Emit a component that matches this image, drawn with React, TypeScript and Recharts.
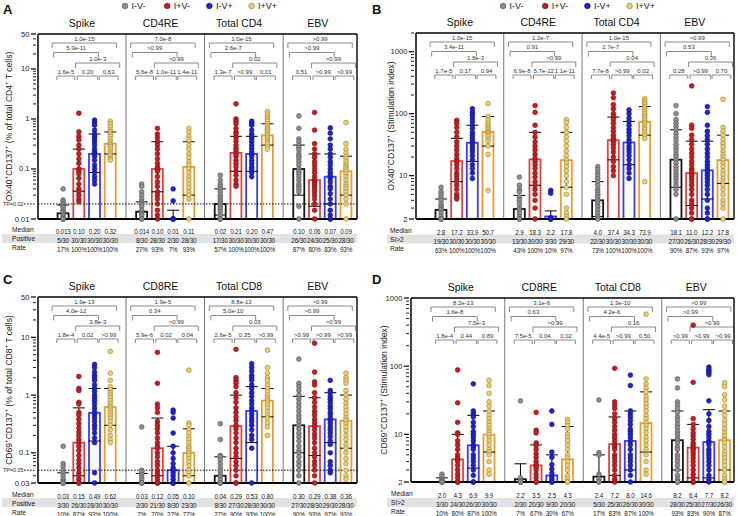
import React from 'react';
import { ComposedChart, Bar, Scatter, ErrorBar, XAxis, YAxis, ReferenceLine } from 'recharts';

const FONT = "'Liberation Sans', Arial, Helvetica, sans-serif";
const SERIES = ['I-V-', 'I+V-', 'I-V+', 'I+V+'];
const BAR_STROKE = ['#141414', '#e2443a', '#3b3bff', '#f29a2e'];
const DOT_FILL = ['#8e8e8e', '#c51d22', '#2024cc', '#e9cd70'];
const DOT_EDGE = ['#555555', '#7d1013', '#11137a', '#9d8132'];

// ---------- Panel A ----------
const A_GROUPS = ['Spike', 'CD4RE', 'Total CD4', 'EBV'];
const A_MEDIAN = ['0.013', '0.10', '0.20', '0.32', '0.014', '0.10', '0.01', '0.11', '0.02', '0.21', '0.20', '0.47', '0.10', '0.06', '0.07', '0.09'];
const A_LO = [0.01, 0.036, 0.085, 0.2, 0.01, 0.035, 0.01, 0.03, 0.012, 0.09, 0.09, 0.3, 0.03, 0.018, 0.02, 0.03];
const A_HI = [0.019, 0.25, 0.5, 0.55, 0.022, 0.35, 0.015, 0.35, 0.04, 0.45, 0.45, 0.8, 0.3, 0.2, 0.2, 0.18];
const A_POS = ['5/30', '30/30', '30/30', '30/30', '8/30', '28/30', '2/30', '28/30', '17/30', '30/30', '30/30', '30/30', '26/30', '24/30', '25/30', '28/30'];
const A_RATE = ['17%', '100%', '100%', '100%', '27%', '93%', '7%', '93%', '57%', '100%', '100%', '100%', '87%', '80%', '83%', '93%'];
const A_P = [
  ['1.0e-15', '5.3e-11', '1.0e-3', '1.6e-5', '0.20', '0.63'],
  ['7.0e-8', '>0.99', '>0.99', '5.6e-8', '1.0e-11', '1.4e-11'],
  ['1.0e-15', '2.6e-7', '0.02', '1.3e-7', '>0.99', '0.01'],
  ['>0.99', '>0.99', '>0.99', '0.51', '>0.99', '>0.99'],
];
const A_YMAJOR = [0.01, 0.1, 1, 10, 50];
const A_PTS = [
  [0.04, 0.024, 0.022, 0.02, 0.018, 0.017, 0.015, 0.014, 0.013, 0.012, 0.011, 0.01, 0.01, 0.01],
  [1.3, 0.55, 0.45, 0.38, 0.3, 0.25, 0.2, 0.16, 0.13, 0.1, 0.09, 0.08, 0.065, 0.05, 0.04, 0.035, 0.03, 0.025, 0.022],
  [0.95, 0.85, 0.75, 0.6, 0.5, 0.45, 0.4, 0.35, 0.3, 0.25, 0.22, 0.2, 0.18, 0.15, 0.12, 0.1, 0.085, 0.07, 0.06, 0.05],
  [0.9, 0.8, 0.7, 0.6, 0.55, 0.5, 0.45, 0.4, 0.35, 0.32, 0.3, 0.28, 0.25, 0.22, 0.2, 0.18, 0.16, 0.15],
  [0.05, 0.045, 0.035, 0.03, 0.025, 0.022, 0.02, 0.018, 0.015, 0.013, 0.012, 0.01, 0.01],
  [0.65, 0.5, 0.42, 0.35, 0.3, 0.25, 0.2, 0.16, 0.13, 0.11, 0.1, 0.09, 0.07, 0.055, 0.045, 0.035, 0.03, 0.025, 0.02, 0.015, 0.012, 0.01],
  [0.04, 0.023, 0.01, 0.01, 0.01],
  [0.65, 0.55, 0.45, 0.38, 0.3, 0.25, 0.2, 0.17, 0.14, 0.12, 0.1, 0.085, 0.07, 0.06, 0.05, 0.042, 0.035, 0.03, 0.025, 0.01],
  [0.075, 0.06, 0.05, 0.045, 0.04, 0.035, 0.03, 0.027, 0.024, 0.022, 0.02, 0.018, 0.016, 0.014, 0.012, 0.01, 0.01],
  [2.0, 1.0, 0.9, 0.8, 0.65, 0.55, 0.5, 0.42, 0.36, 0.3, 0.26, 0.23, 0.2, 0.18, 0.15, 0.13, 0.11, 0.09, 0.075, 0.06, 0.05, 0.045],
  [0.9, 0.82, 0.75, 0.6, 0.5, 0.45, 0.4, 0.35, 0.3, 0.26, 0.22, 0.2, 0.18, 0.15, 0.13, 0.11, 0.1, 0.085, 0.07],
  [1.4, 1.25, 1.1, 1.0, 0.9, 0.8, 0.72, 0.65, 0.6, 0.55, 0.5, 0.47, 0.42, 0.38, 0.35, 0.32, 0.28, 0.25],
  [1.15, 0.65, 0.4, 0.35, 0.3, 0.27, 0.24, 0.2, 0.18, 0.16, 0.14, 0.12, 0.1, 0.09, 0.08, 0.07, 0.06, 0.05, 0.045, 0.04, 0.035, 0.018, 0.01],
  [1.35, 0.6, 0.32, 0.25, 0.2, 0.17, 0.14, 0.12, 0.1, 0.085, 0.07, 0.06, 0.055, 0.05, 0.045, 0.04, 0.035, 0.03, 0.025, 0.02, 0.015, 0.01],
  [0.66, 0.52, 0.4, 0.3, 0.25, 0.2, 0.17, 0.14, 0.12, 0.1, 0.085, 0.075, 0.065, 0.055, 0.045, 0.04, 0.032, 0.025, 0.02, 0.015, 0.012, 0.01, 0.01],
  [0.85, 0.32, 0.25, 0.21, 0.18, 0.16, 0.14, 0.12, 0.11, 0.1, 0.09, 0.08, 0.07, 0.06, 0.05, 0.045, 0.04, 0.035, 0.03, 0.025, 0.02, 0.01],
];

// ---------- Panel B ----------
const B_GROUPS = ['Spike', 'CD4RE', 'Total CD4', 'EBV'];
const B_MEDIAN = ['2.8', '17.2', '33.9', '50.7', '2.9', '18.3', '2.2', '17.8', '4.0', '37.4', '34.3', '73.9', '18.1', '11.0', '12.2', '17.8'];
const B_LO = [2, 8, 17, 30, 2, 7, 2, 6.5, 2.2, 18, 15, 45, 6.5, 3.3, 4.2, 7.5];
const B_HI = [4.2, 40, 65, 90, 4.8, 50, 2.7, 50, 8, 88, 75, 130, 55, 36, 36, 45];
const B_POS = ['19/30', '30/30', '30/30', '30/30', '13/30', '30/30', '3/30', '29/30', '22/30', '30/30', '30/30', '30/30', '27/30', '26/30', '28/30', '29/30'];
const B_RATE = ['63%', '100%', '100%', '100%', '43%', '100%', '10%', '97%', '73%', '100%', '100%', '100%', '90%', '87%', '93%', '97%'];
const B_P = [
  ['1.0e-15', '3.4e-11', '1.8e-3', '1.7e-5', '0.17', '0.94'],
  ['1.2e-7', '0.91', '>0.99', '6.9e-8', '5.7e-12', '1.1e-11'],
  ['1.0e-15', '2.7e-7', '0.04', '7.7e-8', '>0.99', '0.02'],
  ['>0.99', '0.53', '0.36', '0.28', '>0.99', '0.70'],
];
const B_YMAJOR = [2, 10, 100, 1000];
const B_PTS = [
  [6.5, 5.5, 5, 4.5, 4, 3.5, 3.2, 3, 2.8, 2.5, 2.2, 2, 2, 2],
  [78, 70, 60, 50, 42, 35, 30, 26, 22, 19, 17, 15, 13, 11, 10, 9, 8, 7, 6, 5, 4.5, 4.2],
  [120, 105, 95, 85, 75, 65, 58, 50, 45, 40, 36, 33, 30, 27, 24, 21, 18, 15, 13, 11, 9],
  [145, 90, 80, 72, 65, 60, 56, 52, 50, 47, 44, 40, 36, 30, 22, 5.8],
  [9.5, 7, 6, 5.5, 4.5, 4, 3.5, 3, 2.8, 2.5, 2.2, 2, 2],
  [135, 105, 65, 50, 42, 35, 30, 26, 22, 19, 17, 15, 13, 11, 9.5, 8, 7, 6, 5, 4, 3, 2],
  [5.8, 5.2, 2.1, 2, 2, 2],
  [80, 72, 60, 50, 42, 36, 30, 25, 21, 18, 16, 14, 12, 10, 8, 6.5, 5, 3, 2.5, 2.2, 2],
  [14, 12.5, 11, 10, 9, 8, 7, 6, 5.5, 5, 4.5, 4, 3.6, 3.2, 2.8, 2.5, 2.2, 2],
  [215, 180, 140, 120, 100, 90, 80, 70, 60, 52, 45, 40, 36, 32, 28, 24, 20, 17, 14, 12, 10],
  [115, 100, 85, 75, 65, 56, 50, 44, 38, 34, 30, 27, 24, 21, 18, 15, 13, 11, 9],
  [175, 160, 150, 140, 130, 120, 110, 100, 92, 85, 78, 72, 66, 60, 55, 50, 45, 40, 8],
  [135, 100, 80, 70, 62, 55, 48, 42, 37, 32, 28, 25, 22, 20, 18, 16, 14, 12.5, 11, 10, 9, 8, 7, 6, 5, 2],
  [280, 65, 58, 45, 38, 32, 27, 23, 20, 17, 15, 13, 12, 11, 10, 9, 8, 7, 6, 5, 4, 3.5, 3, 2.5, 2, 2],
  [130, 105, 65, 52, 44, 38, 32, 27, 23, 20, 17, 15, 13.5, 12, 11, 10, 9, 8, 7, 6, 5, 4, 3, 2.5, 2, 2],
  [170, 60, 52, 45, 38, 33, 29, 25, 22, 20, 18, 16, 14, 12, 10.5, 9, 8, 7, 6, 5, 4, 3.5, 3, 2],
];

// ---------- Panel C ----------
const C_GROUPS = ['Spike', 'CD8RE', 'Total CD8', 'EBV'];
const C_MEDIAN = ['0.03', '0.15', '0.49', '0.62', '0.03', '0.12', '0.05', '0.10', '0.04', '0.29', '0.53', '0.80', '0.30', '0.29', '0.38', '0.36'];
const C_LO = [0.03, 0.04, 0.16, 0.3, 0.03, 0.04, 0.03, 0.04, 0.03, 0.08, 0.15, 0.42, 0.1, 0.09, 0.15, 0.12];
const C_HI = [0.045, 0.6, 1.3, 1.3, 0.044, 0.4, 0.13, 0.26, 0.085, 1.0, 1.4, 1.3, 0.95, 0.9, 1.1, 1.0];
const C_POS = ['3/30', '26/30', '28/30', '30/30', '2/30', '21/30', '8/30', '23/30', '8/30', '27/30', '28/30', '30/30', '27/30', '28/30', '29/30', '28/30'];
const C_RATE = ['10%', '87%', '93%', '100%', '7%', '70%', '27%', '77%', '27%', '90%', '93%', '100%', '90%', '93%', '97%', '93%'];
const C_P = [
  ['1.9e-13', '4.0e-12', '3.8e-3', '1.8e-4', '0.02', '>0.99'],
  ['1.9e-5', '0.34', '>0.99', '5.9e-6', '0.02', '0.04'],
  ['8.8e-13', '5.0e-10', '0.03', '2.6e-5', '0.35', '>0.99'],
  ['>0.99', '>0.99', '>0.99', '>0.99', '>0.99', '>0.99'],
];
const C_YMAJOR = [0.03, 0.1, 1, 10, 50];
const C_PTS = [
  [0.13, 0.065, 0.058, 0.05, 0.045, 0.04, 0.035, 0.032, 0.03, 0.03, 0.03],
  [2.1, 1.3, 1.2, 0.75, 0.7, 0.5, 0.45, 0.38, 0.32, 0.27, 0.23, 0.2, 0.17, 0.15, 0.13, 0.11, 0.09, 0.075, 0.065, 0.055, 0.045, 0.04, 0.035, 0.03, 0.03],
  [3.4, 3.0, 2.5, 2.2, 2.0, 1.8, 1.5, 1.3, 1.15, 1.0, 0.9, 0.8, 0.7, 0.6, 0.52, 0.45, 0.4, 0.35, 0.3, 0.26, 0.22, 0.18, 0.15, 0.045, 0.03],
  [5.7, 2.4, 1.8, 1.4, 1.25, 1.1, 1.0, 0.9, 0.8, 0.72, 0.65, 0.6, 0.55, 0.5, 0.45, 0.4, 0.35, 0.3, 0.25, 0.2, 0.17, 0.15],
  [0.28, 0.05, 0.047, 0.042, 0.038, 0.034, 0.03, 0.03, 0.03],
  [5.5, 1.6, 0.7, 0.6, 0.5, 0.35, 0.3, 0.26, 0.22, 0.18, 0.15, 0.13, 0.12, 0.1, 0.085, 0.07, 0.06, 0.05, 0.045, 0.04, 0.035, 0.03, 0.03],
  [0.55, 0.5, 0.4, 0.22, 0.13, 0.1, 0.08, 0.065, 0.055, 0.05, 0.045, 0.04, 0.035, 0.03, 0.03, 0.03],
  [2.7, 0.33, 0.3, 0.25, 0.22, 0.19, 0.17, 0.15, 0.13, 0.12, 0.11, 0.1, 0.09, 0.08, 0.07, 0.06, 0.05, 0.045, 0.04, 0.03],
  [0.32, 0.17, 0.09, 0.085, 0.075, 0.065, 0.055, 0.048, 0.042, 0.038, 0.034, 0.03, 0.03, 0.03],
  [6.2, 2.0, 1.8, 1.6, 1.4, 1.1, 0.9, 0.75, 0.6, 0.5, 0.42, 0.36, 0.3, 0.26, 0.22, 0.18, 0.15, 0.12, 0.1, 0.085, 0.07, 0.06, 0.05, 0.04, 0.03, 0.03],
  [3.5, 3.0, 2.6, 2.2, 2.0, 1.8, 1.5, 1.3, 1.1, 0.95, 0.8, 0.7, 0.6, 0.53, 0.46, 0.4, 0.35, 0.3, 0.25, 0.2, 0.17, 0.12, 0.03],
  [6.0, 3.0, 2.4, 2.0, 1.8, 1.5, 1.3, 1.15, 1.0, 0.9, 0.82, 0.75, 0.68, 0.6, 0.52, 0.45, 0.4, 0.33, 0.28, 0.2],
  [4.2, 1.6, 1.4, 1.2, 1.0, 0.85, 0.72, 0.62, 0.53, 0.45, 0.4, 0.35, 0.3, 0.26, 0.22, 0.19, 0.16, 0.13, 0.11, 0.1, 0.085, 0.07, 0.06, 0.05, 0.04, 0.03],
  [7.9, 2.5, 1.7, 1.5, 1.1, 0.9, 0.75, 0.62, 0.52, 0.45, 0.38, 0.33, 0.29, 0.25, 0.21, 0.18, 0.15, 0.12, 0.1, 0.085, 0.07, 0.06, 0.05, 0.04, 0.03],
  [1.8, 1.2, 1.1, 0.95, 0.85, 0.75, 0.65, 0.58, 0.5, 0.45, 0.4, 0.36, 0.32, 0.28, 0.25, 0.22, 0.19, 0.16, 0.14, 0.1, 0.07, 0.06, 0.05, 0.045],
  [2.4, 2.0, 1.8, 1.6, 1.2, 1.0, 0.85, 0.72, 0.62, 0.54, 0.47, 0.4, 0.36, 0.32, 0.28, 0.24, 0.2, 0.17, 0.14, 0.12, 0.1, 0.08, 0.065, 0.05, 0.04, 0.035],
];

// ---------- Panel D ----------
const D_GROUPS = ['Spike', 'CD8RE', 'Total CD8', 'EBV'];
const D_MEDIAN = ['2.0', '4.3', '6.9', '9.9', '2.2', '3.5', '2.5', '4.3', '2.4', '7.2', '8.0', '14.6', '8.2', '6.4', '7.7', '8.2'];
const D_LO = [2, 2, 3.2, 5.5, 2, 2, 2, 2, 2, 2.5, 3, 5.5, 3, 2.3, 2.3, 3];
const D_HI = [2.3, 10, 19, 22, 3.7, 7, 5, 13, 5, 18, 22, 42, 22, 14, 23, 22];
const D_POS = ['3/30', '24/30', '26/30', '30/30', '2/30', '20/30', '9/30', '20/30', '5/30', '25/30', '26/30', '30/30', '28/30', '25/30', '27/30', '26/30'];
const D_RATE = ['10%', '80%', '87%', '100%', '7%', '67%', '30%', '67%', '17%', '83%', '87%', '100%', '93%', '83%', '90%', '87%'];
const D_P = [
  ['8.2e-13', '1.6e-8', '7.5e-3', '1.8e-4', '0.44', '0.89'],
  ['3.1e-6', '0.63', '>0.99', '7.5e-5', '0.04', '0.02'],
  ['1.3e-10', '4.2e-6', '0.16', '4.4e-5', '>0.99', '0.50'],
  ['>0.99', '>0.99', '>0.99', '>0.99', '>0.99', '>0.99'],
];
const D_YMAJOR = [2, 10, 100, 1000];
const D_PTS = [
  [2.6, 2.4, 2.2, 2.1, 2, 2, 2],
  [88, 29, 15, 10.5, 10, 8, 7, 6, 5, 4.5, 4.3, 4, 3.5, 3, 2.6, 2.3, 2, 2],
  [55, 22, 20, 18, 15, 13, 11, 10, 9, 8, 7, 6.5, 6, 5, 4.5, 4, 3.5, 3, 2.5, 2, 2],
  [62, 52, 40, 30, 26, 22, 19, 17, 15, 13.5, 12, 11, 10, 9, 8, 7, 6, 5.5, 5, 4, 3, 2.6],
  [31, 2.3, 2.1, 2, 2, 2],
  [21, 11.5, 10.5, 7.5, 6.8, 6, 5.2, 4.6, 4, 3.6, 3.3, 3, 2.6, 2.3, 2, 2],
  [22, 14, 5.5, 4.6, 3.6, 3.1, 2.7, 2.4, 2.2, 2, 2],
  [16.5, 15, 13.5, 12, 10, 9, 8, 7, 6, 5, 4.5, 4, 3.5, 3, 2.5, 2.2, 2, 2],
  [32, 5.4, 5.0, 2.6, 2.2, 2, 2],
  [93, 30, 27, 24, 20, 17, 15, 13, 11.5, 10, 9, 8, 7, 6.5, 6, 5, 4.5, 4, 3.5, 3, 2.5, 2.2, 2],
  [74, 52, 22, 20, 18, 16, 14, 12, 11, 10, 9, 8, 7, 6, 5, 4.5, 4, 3.5, 3, 2.5, 2],
  [580, 65, 55, 48, 42, 36, 32, 28, 25, 22, 19, 17, 15, 13.5, 12, 10.5, 9, 8, 7, 6, 5, 4, 3, 2.6],
  [65, 48, 30, 27, 24, 21, 18, 16, 14, 12.5, 11, 10, 9, 8.2, 7.5, 6.5, 6, 5, 4.5, 4, 3.5, 3, 2.5, 2.2, 2, 2],
  [400, 58, 17, 14, 12, 10.5, 9.5, 8.5, 7.5, 7, 6.4, 6, 5.5, 5, 4.5, 4, 3.5, 3, 2.6, 2.3, 2, 2],
  [97, 90, 85, 80, 75, 31, 20, 16, 13, 11, 10, 9, 8, 7.7, 7, 6, 5.5, 5, 4.5, 4, 3.5, 3, 2.5, 2.2, 2],
  [57, 50, 38, 32, 26, 22, 19, 16, 14, 12, 10.5, 9.5, 8.5, 8.2, 7.5, 6.5, 5.5, 5, 4.5, 4, 3.5, 3, 2.5, 2.2, 2, 2],
];

// bracket geometry (x relative to group start, level = px below plot top)
const BR = [
  { a: 0.3, b: 4.4, lv: 9, t: 5 },
  { a: 0.4, b: 3.25, lv: 18.5, t: 5 },
  { a: 1.8, b: 4.6, lv: 29, t: 5 },
  { a: 0.6, b: 1.75, lv: 42, t: 4 },
  { a: 1.9, b: 3.2, lv: 42, t: 4 },
  { a: 3.3, b: 4.5, lv: 42, t: 4 },
];

type Cfg = any;

const PANELS: Cfg[] = [
  {
    letter: 'A', letterPos: [3, 13.5], box: [0, 0, 369, 256], plot: [38, 34, 357, 219], xDom: [-0.6, 19.7],
    yDom: [0.01, 50], yMajor: A_YMAJOR, tp: 0.02, tpLabel: 'TP=0.02',
    yTitle: 'OX40^+CD137^+ (% of total CD4^+ T cells)', yTitleX: 9,
    groups: A_GROUPS, medians: A_MEDIAN, lo: A_LO, hi: A_HI, pts: A_PTS, pv: A_P,
    row2: 'Positive', cnt: A_POS, rate: A_RATE, rows: [10, 19.5, 28.5], band: [2, 357, 234, 243], rowLabelX: 12,
    legend: [125, 6],
  },
  {
    letter: 'B', letterPos: [372, 13.5], box: [370, 0, 368, 256], plot: [416, 33, 734, 219], xDom: [-0.6, 19.7],
    yDom: [2, 2000], yMajor: B_YMAJOR,
    yTitle: 'OX40^+CD137^+ (Stimulation index)', yTitleX: 391,
    groups: B_GROUPS, medians: B_MEDIAN, lo: B_LO, hi: B_HI, pts: B_PTS, pv: B_P,
    row2: 'SI>2', cnt: B_POS, rate: B_RATE, rows: [11, 20, 29], band: [387, 734, 234.5, 243.5], rowLabelX: 390,
    legend: [503, 6],
  },
  {
    letter: 'C', letterPos: [3, 283.5], box: [0, 258, 369, 258], plot: [38, 297, 357, 483], xDom: [-0.6, 19.7],
    yDom: [0.03, 50], yMajor: C_YMAJOR, tp: 0.05, tpLabel: 'TP=0.05',
    yTitle: 'CD69^+CD137^+ (% of total CD8^+ T cells)', yTitleX: 9,
    groups: C_GROUPS, medians: C_MEDIAN, lo: C_LO, hi: C_HI, pts: C_PTS, pv: C_P,
    row2: 'Positive', cnt: C_POS, rate: C_RATE, rows: [11, 20, 29], band: [2, 357, 498, 507], rowLabelX: 12,
  },
  {
    letter: 'D', letterPos: [372, 283.5], box: [370, 258, 368, 258], plot: [411, 298, 734, 482], xDom: [-0.97, 19.6],
    yDom: [2, 1000], yMajor: D_YMAJOR,
    yTitle: 'CD69^+CD137^+ (Stimulation index)', yTitleX: 384,
    groups: D_GROUPS, medians: D_MEDIAN, lo: D_LO, hi: D_HI, pts: D_PTS, pv: D_P,
    row2: 'SI>2', cnt: D_POS, rate: D_RATE, rows: [11, 20.5, 29.5], band: [387, 734, 498, 507], rowLabelX: 391,
  },
];

function logTicks(dom: number[]) {
  const out: number[] = [];
  for (let e = -3; e <= 4; e++) {
    for (let m = 1; m < 10; m++) {
      const v = Number((m * Math.pow(10, e)).toPrecision(3));
      if (v >= dom[0] * 0.9999 && v < dom[1] * 0.9999) out.push(v);
    }
  }
  if (!out.some((v) => Math.abs(v - dom[1]) / dom[1] < 1e-6)) out.push(dom[1]);
  return out;
}

const near = (a: number, b: number) => Math.abs(a - b) / Math.abs(b) < 1e-6;

function YTick(props: any) {
  const { x, y, payload, c } = props;
  const v = payload.value;
  if (c.tp && near(v, c.tp)) {
    return (
      <g>
        <line x1={x - 12} x2={x} y1={y} y2={y} stroke="#000" strokeWidth={1} strokeDasharray="1.5 1.5" />
        <text x={x - 12.5} y={y} textAnchor="end" dominantBaseline="central" fontSize={5.4} fontFamily={FONT} fill="#222">{c.tpLabel}</text>
      </g>
    );
  }
  const major = c.yMajor.some((m: number) => near(v, m));
  if (major) {
    return (
      <g>
        <line x1={x - 5} x2={x} y1={y} y2={y} stroke="#000" strokeWidth={1.2} />
        <text x={x - 6.5} y={y} textAnchor="end" dominantBaseline="central" fontSize={7.6} fontFamily={FONT} fill="#222">{String(v)}</text>
      </g>
    );
  }
  return <line x1={x - 3} x2={x} y1={y} y2={y} stroke="#000" strokeWidth={0.9} />;
}

function TableTick(props: any) {
  const { x, y, payload, c } = props;
  const v = Math.round(payload.value);
  const g = Math.floor((v - 1) / 5);
  const s = v - 1 - g * 5;
  const i = g * 4 + s;
  const vals = [c.medians[i], c.cnt[i], c.rate[i]];
  return (
    <g>
      {vals.map((t: string, k: number) => (
        <text key={k} x={x} y={y + c.rows[k]} textAnchor="middle" dominantBaseline="central" fontSize={6.3} letterSpacing={-0.15} fontFamily={FONT} fill="#151515">{t}</text>
      ))}
    </g>
  );
}

function TitleTick(props: any) {
  const { x, y, payload, c } = props;
  const i = Math.round((payload.value - 2.2) / 5);
  return (
    <text x={x} y={y - 5} textAnchor="middle" fontSize={10.5} fontFamily={FONT} fill="#111">{c.groups[i]}</text>
  );
}

const barShape = (p: any) => {
  const idx = p.index != null ? p.index : 0;
  const w = 11;
  const cx = p.x + p.width / 2;
  const h = Math.max(0, p.height || 0);
  return (
    <rect x={cx - w / 2} y={p.y} width={w} height={h} fill="none" stroke={BAR_STROKE[idx % 4]} strokeWidth={1.8} />
  );
};

const dotShape = (s: number) => (p: any) => (
  <circle cx={p.cx} cy={p.cy} r={2.4} fill={DOT_FILL[s]} stroke={DOT_EDGE[s]} strokeWidth={0.6} />
);
const emptyShape = () => <g />;
const pvShape = (p: any) => {
  const t = (p.payload && p.payload.t) || p.t;
  return (
    <text x={p.cx} y={p.cy - 2.2} textAnchor="middle" fontSize={6} fontFamily={FONT} fill="#333">{t}</text>
  );
};

function Panel({ c }: { c: Cfg }) {
  const [bl, bt, bw, bh] = c.box;
  const [pl, pt, pr, pb] = c.plot;
  const plotH = pb - pt;
  const margin = { top: pt - bt - 12, right: bl + bw - pr - 1, bottom: bt + bh - pb - 30, left: 0 };
  const rows = c.medians.map((m: string, i: number) => {
    const g = Math.floor(i / 4);
    const s = i % 4;
    const v = Number(m);
    return { x: g * 5 + s + 1, y: v, err: [v - c.lo[i], c.hi[i] - v] };
  });
  const barTicks = rows.map((r: any) => r.x);
  const series = SERIES.map((_, s) =>
    c.pts.flatMap((arr: number[], i: number) =>
      i % 4 === s ? arr.map((y) => ({ x: Math.floor(i / 4) * 5 + s + 1, y })) : []
    )
  );
  const labels = c.pv.flatMap((grp: string[], g: number) =>
    grp.map((t, k) => ({ x: g * 5 + (BR[k].a + BR[k].b) / 2, y: BR[k].lv, t }))
  );
  const yTicks = logTicks(c.yDom);
  const bracketLines: any[] = [];
  c.pv.forEach((grp: string[], g: number) => {
    grp.forEach((_t, k) => {
      const b = BR[k];
      const x0 = g * 5 + b.a;
      const x1 = g * 5 + b.b;
      const key = `${g}-${k}`;
      const common = { yAxisId: 'b', stroke: '#8a8a8a', strokeWidth: 1, ifOverflow: 'visible' as const };
      bracketLines.push(<ReferenceLine key={key + 'h'} {...common} segment={[{ x: x0, y: b.lv }, { x: x1, y: b.lv }]} />);
      bracketLines.push(<ReferenceLine key={key + 'l'} {...common} segment={[{ x: x0, y: b.lv }, { x: x0, y: b.lv + b.t }]} />);
      bracketLines.push(<ReferenceLine key={key + 'r'} {...common} segment={[{ x: x1, y: b.lv }, { x: x1, y: b.lv + b.t }]} />);
    });
  });

  return (
    <div style={{ position: 'absolute', left: bl, top: bt, width: bw, height: bh }}>
      <ComposedChart width={bw} height={bh} data={rows} margin={margin}>
        <XAxis
          xAxisId={0} dataKey="x" type="number" domain={c.xDom} ticks={barTicks} interval={0}
          tickLine={false} tickSize={0} height={30} axisLine={{ stroke: '#000', strokeWidth: 2 }}
          tick={(p: any) => <TableTick {...p} c={c} />}
        />
        <XAxis
          xAxisId="top" orientation="top" dataKey="x" type="number" domain={c.xDom} ticks={[2.2, 7.2, 12.2, 17.2]}
          interval={0} tickLine={false} tickSize={0} height={12} axisLine={{ stroke: '#000', strokeWidth: 1.4 }}
          tick={(p: any) => <TitleTick {...p} c={c} />}
        />
        <YAxis
          yAxisId={0} dataKey="y" type="number" scale="log" domain={c.yDom} ticks={yTicks} interval={0}
          tickLine={false} tickSize={0} width={pl - bl} axisLine={{ stroke: '#000', strokeWidth: 1.5 }}
          tick={(p: any) => <YTick {...p} c={c} />}
        />
        <YAxis
          yAxisId="b" orientation="right" dataKey="y" type="number" domain={[0, plotH]} reversed width={1}
          tick={false} tickLine={false} axisLine={{ stroke: '#000', strokeWidth: 1.4 }}
        />
        {[5, 10, 15].map((x) => (
          <ReferenceLine key={'d' + x} x={x} stroke="#777" strokeWidth={1} />
        ))}
        {c.tp ? <ReferenceLine y={c.tp} stroke="#000" strokeWidth={1} strokeDasharray="1.5 1.5" /> : null}
        <Bar dataKey="y" barSize={11} isAnimationActive={false} shape={barShape} />
        {series.map((d, s) => (
          <Scatter key={'s' + s} name={SERIES[s]} data={d} isAnimationActive={false} shape={dotShape(s)} />
        ))}
        <Scatter data={rows} isAnimationActive={false} shape={emptyShape}>
          <ErrorBar dataKey="err" direction="y" width={6} stroke="#000" strokeWidth={1} isAnimationActive={false} />
        </Scatter>
        {bracketLines}
        <Scatter yAxisId="b" data={labels} isAnimationActive={false} shape={pvShape} />
      </ComposedChart>
    </div>
  );
}

function parseSup(s: string) {
  const parts: { t: string; sup: boolean }[] = [];
  let buf = '';
  for (let i = 0; i < s.length; i++) {
    if (s[i] === '^') {
      if (buf) parts.push({ t: buf, sup: false });
      buf = '';
      parts.push({ t: s[i + 1], sup: true });
      i++;
    } else buf += s[i];
  }
  if (buf) parts.push({ t: buf, sup: false });
  return parts;
}

function Decor() {
  return (
    <svg width={738} height={516} style={{ position: 'absolute', left: 0, top: 0 }}>
      {PANELS.map((c, pi) => {
        const [, pt, , pb] = c.plot;
        const cy = (pt + pb) / 2;
        const parts = parseSup(c.yTitle);
        let prevSup = false;
        return (
          <g key={pi} fontFamily={FONT}>
            <rect x={c.band[0]} y={c.band[2]} width={c.band[1] - c.band[0]} height={c.band[3] - c.band[2]} fill="#e2e2e2" />
            {['Median', c.row2, 'Rate'].map((t, k) => (
              <text key={k} x={c.rowLabelX} y={pb + c.rows[k]} dominantBaseline="central" fontSize={6.6} fill="#151515">{t}</text>
            ))}
            <text x={c.letterPos[0]} y={c.letterPos[1]} fontSize={13} fontWeight="bold" fill="#111">{c.letter}</text>
            <text x={c.yTitleX} y={cy} transform={`rotate(-90 ${c.yTitleX} ${cy})`} textAnchor="middle" dominantBaseline="central" fontSize={8.6} fill="#222">
              {parts.map((p, k) => {
                const dy = (p.sup ? -2.8 : 0) + (prevSup ? 2.8 : 0);
                prevSup = p.sup;
                return (
                  <tspan key={k} dy={dy} fontSize={p.sup ? 6 : 8.6}>{p.t}</tspan>
                );
              })}
            </text>
            {c.legend
              ? SERIES.map((name, s) => {
                  const lx = c.legend[0] + s * 42.2;
                  return (
                    <g key={name}>
                      <circle cx={lx} cy={c.legend[1]} r={2.8} fill={DOT_FILL[s]} stroke={DOT_EDGE[s]} strokeWidth={0.7} />
                      <text x={lx + 6.5} y={c.legend[1] + 0.3} dominantBaseline="central" fontSize={9} fill="#222">{name}</text>
                    </g>
                  );
                })
              : null}
          </g>
        );
      })}
    </svg>
  );
}

export default function App() {
  return (
    <div style={{ position: 'absolute', left: 0, top: 0, width: 738, height: 516, background: '#fff', overflow: 'hidden' }}>
      <Decor />
      {PANELS.map((c, i) => (
        <Panel key={i} c={c} />
      ))}
    </div>
  );
}
